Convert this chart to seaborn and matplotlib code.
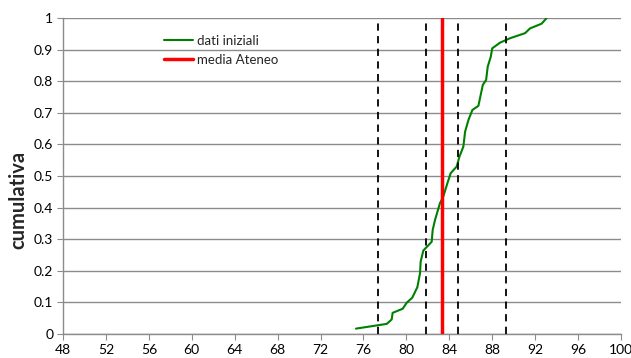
import matplotlib
matplotlib.use("Agg")
import matplotlib.pyplot as plt
import seaborn as sns
import numpy as np
import pandas as pd

# data
voto = [75.3, 78.17, 78.63, 78.72, 79.66, 80.03, 80.55, 81.02, 81.27, 81.33, 81.58,
        82.36, 82.45, 82.67, 83.13, 83.44, 83.82, 84.13, 84.69, 84.94, 85.31, 85.47,
        85.78, 86.15, 86.71, 87.12, 87.43, 87.58, 87.86, 88.0, 88.73, 89.66, 91.06,
        91.52, 92.6, 93.08]
cumulativa = [0.017, 0.032, 0.046, 0.067, 0.08, 0.099, 0.115, 0.148, 0.192, 0.229, 0.264,
              0.292, 0.329, 0.361, 0.414, 0.435, 0.477, 0.509, 0.530, 0.561, 0.593, 0.640,
              0.677, 0.709, 0.722, 0.788, 0.804, 0.846, 0.877, 0.904, 0.922, 0.936, 0.952,
              0.967, 0.982, 1.0]
media_ateneo = 83.35
linee_tratteggiate = [77.33, 81.83, 84.8, 89.3]
x_ticks = list(range(48, 101, 4))
y_ticks = [0, 0.1, 0.2, 0.3, 0.4, 0.5, 0.6, 0.7, 0.8, 0.9, 1]
y_labels = ["0", "0.1", "0.2", "0.3", "0.4", "0.5", "0.6", "0.7", "0.8", "0.9", "1"]

sns.set_style("white")
plt.rcParams['font.family'] = ['Lato', 'DejaVu Sans']

fig = plt.figure(figsize=(6.31, 3.58), dpi=100)
ax = fig.add_axes([63/631, 1-334/358, (621-63)/631, (334-18)/358])

df = pd.DataFrame({"voto": voto, "cumulativa": cumulativa})
sns.lineplot(data=df, x="voto", y="cumulativa", ax=ax, color="#008000", lw=1.5,
             label="dati iniziali", sort=False)
for xv in linee_tratteggiate:
    ax.axvline(xv, color="black", lw=1.3, ls=(0, (4, 3)), zorder=3)
ax.axvline(media_ateneo, color="#ff0000", lw=2.5, label="media Ateneo", zorder=4)

ax.set_xlim(48, 100)
ax.set_ylim(0, 1)
ax.set_xticks(x_ticks)
ax.set_yticks(y_ticks)
ax.set_yticklabels(y_labels)
ax.yaxis.grid(True, color="#8c8c8c", lw=1)
ax.xaxis.grid(False)
ax.set_axisbelow(True)
for s in ["top", "right"]:
    ax.spines[s].set_visible(False)
for s in ["left", "bottom"]:
    ax.spines[s].set_color("#8c8c8c")
    ax.spines[s].set_linewidth(1)
ax.tick_params(axis="both", which="major", direction="out", length=4, color="#8c8c8c",
               labelsize=10, labelcolor="black", left=True, bottom=True, pad=3)
ax.set_xlabel("")
ax.set_ylabel("cumulativa", fontsize=14.5, fontweight="bold")
ax.yaxis.set_label_coords(-(63 - 28) / 558, (334 - 200) / 316)

leg = ax.legend(loc="upper left", bbox_to_anchor=(0.16, 0.985), frameon=False, fontsize=9.5,
                handlelength=2.2, handletextpad=0.3, labelspacing=0.55)

fig.savefig("out.png", dpi=100)
